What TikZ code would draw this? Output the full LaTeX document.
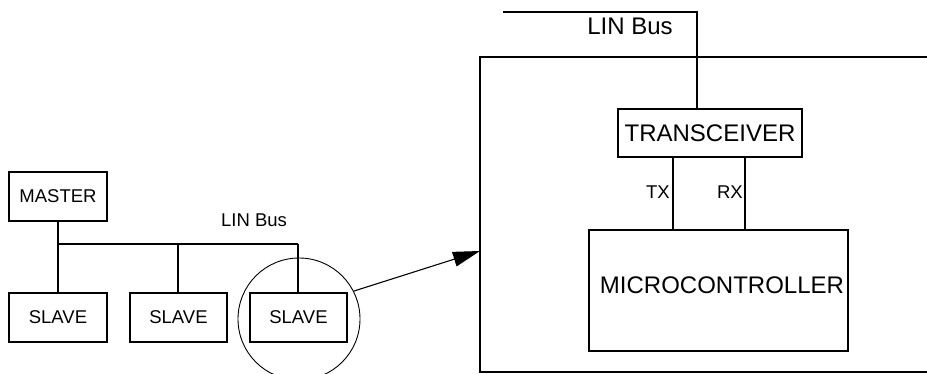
\documentclass[tikz,border=0pt]{standalone}
\usepackage{fontspec}
\setmainfont{Liberation Sans}
\usetikzlibrary{arrows.meta}
\begin{document}
\begin{tikzpicture}[x=1pt,y=-1pt,
  box/.style={draw, line width=1.1pt, inner sep=0pt},
  small/.style={font=\fontsize{18.5}{22}\selectfont, inner sep=0pt},
  big/.style={font=\fontsize{24}{28}\selectfont, inner sep=0pt},
  wire/.style={line width=1.1pt}]
\useasboundingbox (0,0) rectangle (927,374);
% left network
\node[box, small, minimum width=98pt, minimum height=49pt] (master) at (58,196.5) {MASTER};
\node[box, small, minimum width=98pt, minimum height=49pt] (slave1) at (58,317.5) {SLAVE};
\node[box, small, minimum width=97pt, minimum height=49pt] (slave2) at (178.5,317.5) {SLAVE};
\node[box, small, minimum width=97pt, minimum height=49pt] (slave3) at (298.5,317.5) {SLAVE};
\coordinate (b1) at (58,244);
\coordinate (b2) at (178,244);
\coordinate (b3) at (298,244);
\draw[wire] (master.south) -- (slave1.north);
\draw[wire] (b1) -- (b3);
\draw[wire] (b2) -- (b2 |- slave2.north);
\draw[wire] (b3) -- (b3 |- slave3.north);
\node[small] (busl) at (254,220) {LIN Bus};
\begin{scope}
\clip (0,0) rectangle (927,374);
\node[draw, line width=0.9pt, circle, minimum size=122pt, inner sep=0pt] (zoom) at (299,319) {};
\end{scope}
% right detail: large module frame, its right side lies beyond the picture
\coordinate (ecunw) at (480,57);
\coordinate (ecusw) at (480,372);
\draw[wire] (927,57) -- (ecunw) -- (ecusw) -- (927,372);
\coordinate (tip) at (480,251);
\draw[line width=1.1pt, -{Triangle[length=27pt,width=15pt]}] (zoom.27) -- (tip);
\node[box, big, minimum width=184pt, minimum height=48pt] (trans) at (710,133) {TRANSCEIVER};
\node[box, minimum width=259pt, minimum height=121pt] (mcu) at (718.5,290.5) {};
\node[big] (mcutext) at (722,285) {MICROCONTROLLER};
\coordinate (tl) at (503,12);
\coordinate (tr) at (697,12);
\draw[wire] (tl) -- (tr) -- (tr |- trans.north);
\node[big] (bust) at (630,26) {LIN Bus};
\coordinate (txx) at (673,0);
\coordinate (rxx) at (745,0);
\draw[wire] (trans.south -| txx) -- (mcu.north -| txx);
\draw[wire] (trans.south -| rxx) -- (mcu.north -| rxx);
\node[small, anchor=east] (tx) at (670,192) {TX};
\node[small, anchor=east] (rx) at (743,192) {RX};
\end{tikzpicture}
\end{document}
